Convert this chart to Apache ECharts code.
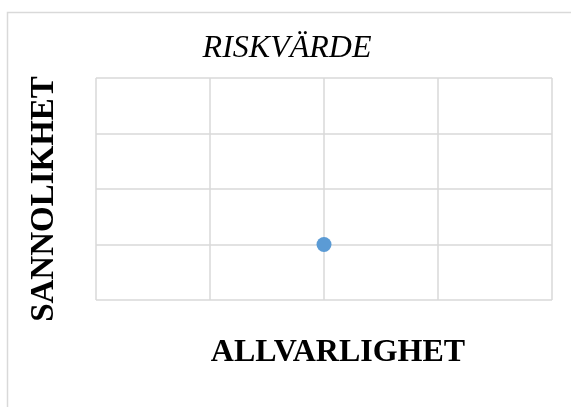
<!DOCTYPE html>
<html>
<head>
<meta charset="utf-8">
<script src="https://cdn.jsdelivr.net/npm/echarts@6/dist/echarts.min.js"></script>
<style>
  html, body { margin: 0; padding: 0; background: #fff; }
  #chart { width: 571px; height: 407px; }
</style>
</head>
<body>
<div id="chart"></div>
<script>
// data
const xTicks = [0, 1, 2, 3, 4];
const yTicks = [0, 1, 2, 3, 4];
const riskPoints = [[2, 1]];

const serif = "'Liberation Serif', 'Times New Roman', serif";
const grey = "#d9d9d9";

const chart = echarts.init(document.getElementById("chart"));

const option = {
  animation: false,
  title: {
    text: "RISKVÄRDE",
    left: 282,
    top: 28,
    textAlign: "center",
    textStyle: {
      fontFamily: serif,
      fontStyle: "italic",
      fontWeight: "normal",
      fontSize: 32,
      color: "#000",
    },
  },
  // outer frame
  graphic: [
    {
      type: "rect",
      shape: { x: 7.5, y: 12.5, width: 700, height: 500 },
      style: { fill: "none", stroke: grey, lineWidth: 1.5 },
      silent: true,
    },
  ],
  grid: {
    left: 96,
    top: 78,
    right: 19,
    bottom: 107,
  },
  xAxis: {
    type: "value",
    min: xTicks[0],
    max: xTicks[xTicks.length - 1],
    interval: 1,
    name: "ALLVARLIGHET",
    nameLocation: "middle",
    nameGap: 37,
    nameTextStyle: {
      fontFamily: serif,
      fontWeight: "bold",
      fontSize: 32,
      color: "#000",
      padding: [0, 0, 0, 28],
    },
    axisLine: { show: false },
    axisTick: { show: false },
    axisLabel: { show: false },
    splitLine: { show: true, lineStyle: { color: grey, width: 1.5 } },
  },
  yAxis: {
    type: "value",
    min: yTicks[0],
    max: yTicks[yTicks.length - 1],
    interval: 1,
    name: "SANNOLIKHET",
    nameLocation: "middle",
    nameGap: 35,
    nameTextStyle: {
      fontFamily: serif,
      fontWeight: "bold",
      fontSize: 33,
      color: "#000",
      padding: [0, 20, 0, 0],
    },
    axisLine: { show: false },
    axisTick: { show: false },
    axisLabel: { show: false },
    splitLine: { show: true, lineStyle: { color: grey, width: 1.5 } },
  },
  series: [
    {
      type: "scatter",
      data: riskPoints,
      symbolSize: 15,
      itemStyle: { color: "#5b9bd5", opacity: 1 },
    },
  ],
};

chart.setOption(option);
</script>
</body>
</html>
